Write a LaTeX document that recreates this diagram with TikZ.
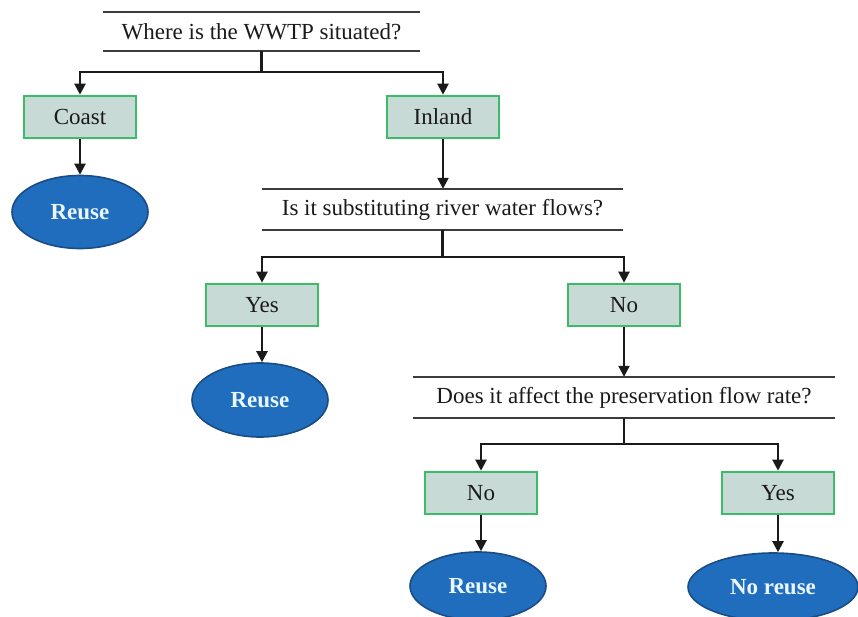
\documentclass[tikz,border=0pt]{standalone}
\usepackage{fontspec}
\setmainfont{Liberation Serif}
\usetikzlibrary{shapes.geometric,arrows.meta}
\definecolor{boxfill}{HTML}{C8DAD6}
\definecolor{boxline}{HTML}{3CBB68}
\definecolor{ovalfill}{HTML}{1F6DBC}
\definecolor{ovalline}{HTML}{1A4C84}
\definecolor{ovaltext}{HTML}{EAF6FF}
\definecolor{ink}{HTML}{1A1A1A}
\begin{document}
\begin{tikzpicture}[x=1pt,y=-1pt,
  answer/.style={draw=boxline, fill=boxfill, line width=2.6pt, minimum width=112pt,
    minimum height=42pt, inner sep=0pt, text=ink, font=\fontsize{23}{27}\selectfont},
  result/.style={ellipse, draw=ovalline, fill=ovalfill, line width=1.6pt,
    minimum width=136pt, minimum height=72pt, inner sep=0pt, text=ovaltext,
    font=\fontsize{23}{27}\selectfont\bfseries},
  question/.style={inner sep=0pt, text=ink, font=\fontsize{23}{27}\selectfont},
  rule/.style={draw=ink!85, line width=1.8pt},
  link/.style={draw=ink, line width=2.2pt},
  flow/.style={link, -{Triangle[width=11pt,length=11pt]}}
]
\useasboundingbox (0,0) rectangle (858,617);
\clip (0,0) rectangle (858,617);

% questions framed by a rule above and below
\node[question, minimum width=317pt, minimum height=39pt] (q1) at (261.5,31.5) {Where is the WWTP situated?};
\node[question, minimum width=361pt, minimum height=41pt] (q2) at (442.5,209.5) {Is it substituting river water flows?};
\node[question, minimum width=422pt, minimum height=41pt] (q3) at (624,397.5) {Does it affect the preservation flow rate?};
\foreach \q in {q1,q2,q3}{
  \draw[rule] (\q.north west) -- (\q.north east);
  \draw[rule] (\q.south west) -- (\q.south east);
}

% answers
\node[answer] (coast)  at (80,117)  {Coast};
\node[answer] (inland) at (443,117) {Inland};
\node[answer] (yesA)   at (262,305) {Yes};
\node[answer] (noA)    at (624,305) {No};
\node[answer] (noB)    at (481,493) {No};
\node[answer] (yesB)   at (778,493) {Yes};

% outcomes
\node[result, minimum height=73pt] (r1) at (80,212)  {Reuse};
\node[result, minimum height=74pt] (r2) at (260,400) {Reuse};
\node[result, minimum height=68pt] (r3) at (478,586) {Reuse};
\node[result, minimum width=170pt, minimum height=68pt] (r4) at (773,587) {No reuse};

% branching junctions
\coordinate (j1) at (261.5,72);
\coordinate (j2) at (442.5,257);
\coordinate (j3) at (624,444);

\draw[link] (q1.south) -- (j1);
\draw[flow] (j1) -| (coast.north);
\draw[flow] (j1) -| (inland.north);
\draw[flow] (coast.south) -- (r1.north);
\draw[flow] (inland.south) -- (q2.north -| inland.south);

\draw[link] (q2.south) -- (j2);
\draw[flow] (j2) -| (yesA.north);
\draw[flow] (j2) -| (noA.north);
\draw[flow] (yesA.south) -- (r2.north -| yesA.south);
\draw[flow] (noA.south) -- (q3.north);

\draw[link] (q3.south) -- (j3);
\draw[flow] (j3) -| (noB.north);
\draw[flow] (j3) -| (yesB.north);
\draw[flow] (noB.south) -- (r3.north -| noB.south);
\draw[flow] (yesB.south) -- (r4.north -| yesB.south);
\end{tikzpicture}
\end{document}
